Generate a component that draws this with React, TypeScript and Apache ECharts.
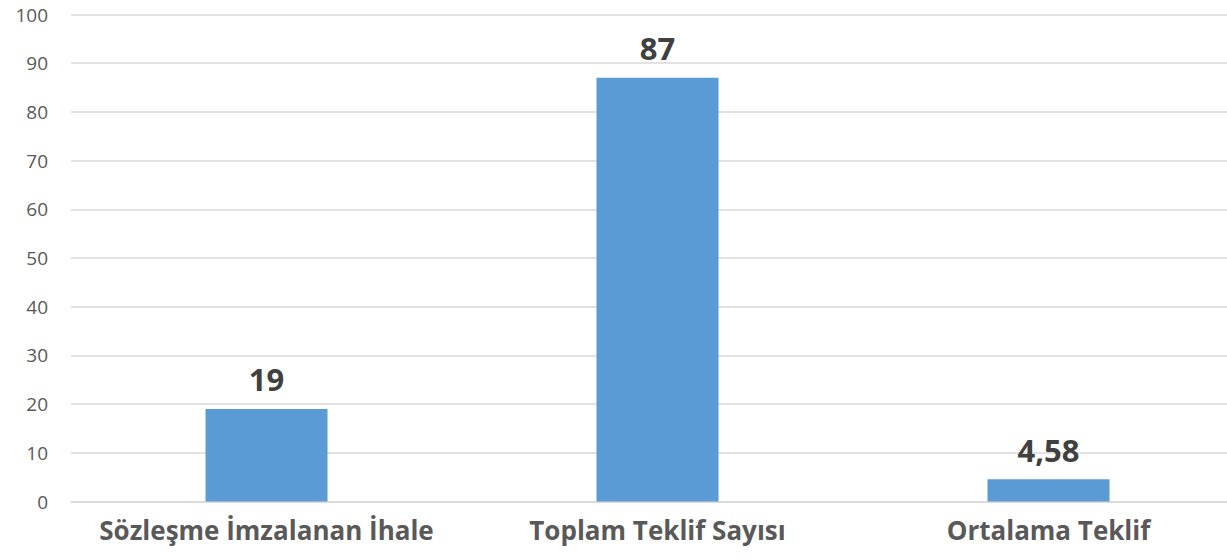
import React, { useEffect, useRef } from "react";
import * as echarts from "echarts";

const categories = ["Sözleşme İmzalanan İhale", "Toplam Teklif Sayısı", "Ortalama Teklif"];
const values = [19, 87, 4.58];
const valueLabels = ["19", "87", "4,58"];
const yTicks = [0, 10, 20, 30, 40, 50, 60, 70, 80, 90, 100];

export default function App() {
  const ref = useRef<HTMLDivElement>(null);
  useEffect(() => {
    document.body.style.margin = "0";
    const chart = echarts.init(ref.current!, null, { renderer: "svg" });
    chart.setOption({
      animation: false,
      backgroundColor: "#ffffff",
      grid: { left: 71, top: 14.5, right: 16, height: 487, containLabel: false },
      xAxis: {
        type: "category",
        data: categories,
        axisLine: { show: true, lineStyle: { color: "#d9d9d9", width: 1.5 } },
        axisTick: { show: false },
        axisLabel: {
          color: "#595959",
          fontFamily: "Open Sans",
          fontWeight: "bold",
          fontSize: 26,
          margin: 15,
          interval: 0,
        },
      },
      yAxis: {
        type: "value",
        min: yTicks[0],
        max: yTicks[yTicks.length - 1],
        interval: 10,
        axisLine: { show: false },
        axisTick: { show: false },
        splitLine: { lineStyle: { color: "#d9d9d9", width: 1.5 } },
        axisLabel: {
          color: "#595959",
          fontFamily: "Open Sans",
          fontSize: 19,
          margin: 23,
        },
      },
      series: [
        {
          type: "bar",
          data: values,
          barWidth: 122,
          itemStyle: { color: "#5b9bd5" },
          label: {
            show: true,
            position: "top",
            distance: 14,
            color: "#404040",
            fontFamily: "Open Sans",
            fontWeight: "bold",
            fontSize: 31,
            formatter: (p: any) => valueLabels[p.dataIndex],
          },
        },
      ],
    });
    return () => chart.dispose();
  }, []);
  return (
    <div style={{ width: 1227, height: 560, overflow: "hidden", position: "relative" }}>
      <div ref={ref} style={{ width: 1260, height: 560 }} />
    </div>
  );
}
